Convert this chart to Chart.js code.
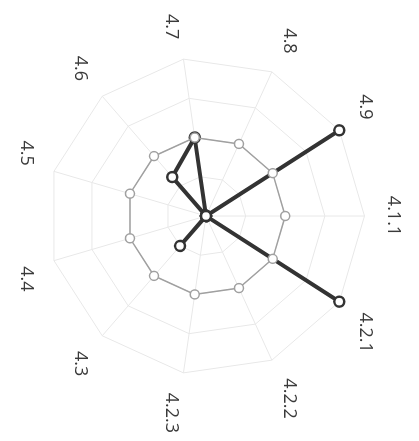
<!DOCTYPE html>
<html>
<head>
<meta charset="utf-8">
<script src="https://cdn.jsdelivr.net/npm/chart.js@4.4.0/dist/chart.umd.min.js"></script>
<style>
  html, body { margin: 0; padding: 0; background: #fff; }
  #frame { position: relative; width: 419px; height: 441px; overflow: hidden; }
  /* the chart is drawn upright and turned a quarter clockwise, like the scan */
  #turn {
    position: absolute; left: -11px; top: 11px;
    width: 441px; height: 419px;
    transform: rotate(90deg); transform-origin: 50% 50%;
  }
</style>
</head>
<body>
<div id="frame">
  <div id="turn"><canvas id="radar" width="441" height="419"></canvas></div>
</div>
<script>
const sections = ["4.1.1", "4.2.1", "4.2.2", "4.2.3", "4.3", "4.4", "4.5", "4.6", "4.7", "4.8", "4.9"];
const referenceLevel = [2, 2, 2, 2, 2, 2, 2, 2, 2, 2, 2];
const scoredLevel = [0, 4, 0, 0, 1, 0, 0, 1.3, 2, 0, 4];
const scaleMax = 4;
const scaleStep = 1;

const radarConfig = {
    type: 'radar',
    data: {
        labels: sections,
        datasets: [{
            label: "reference",
            data: referenceLevel,
            fill: false,
            borderColor: '#a0a0a0',
            borderWidth: 1.5,
            pointRadius: 4.5,
            pointBorderWidth: 1.5,
            pointBorderColor: '#a0a0a0',
            pointBackgroundColor: '#ffffff'
        }, {
            label: "score",
            data: scoredLevel,
            fill: false,
            borderColor: '#333333',
            borderWidth: 4,
            pointRadius: 5,
            pointBorderWidth: 2.5,
            pointBorderColor: '#333333',
            pointBackgroundColor: '#ffffff'
        }]
    },
    options: {
        responsive: false,
        animation: false,
        layout: { padding: { left: 8, right: 0, top: 0, bottom: 0 } },
        plugins: {
            legend: { display: false },
            tooltip: { enabled: false }
        },
        scales: {
            r: {
                min: 0,
                max: scaleMax,
                ticks: { stepSize: scaleStep, display: false },
                grid: { color: '#e8e8e8', lineWidth: 1 },
                angleLines: { color: '#e8e8e8', lineWidth: 1 },
                pointLabels: {
                    padding: 20,
                    color: '#3a3a3a',
                    font: { family: "'Open Sans'", size: 18, lineHeight: 1 }
                }
            }
        }
    }
};

new Chart(document.getElementById('radar'), radarConfig);
</script>
</body>
</html>
